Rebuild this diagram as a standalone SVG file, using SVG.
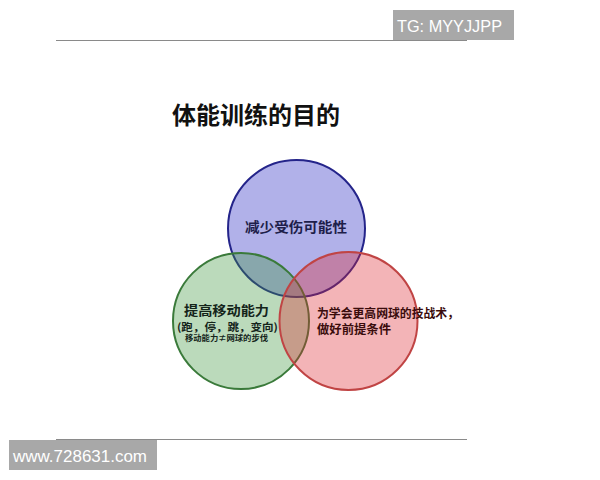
<svg xmlns="http://www.w3.org/2000/svg" width="600" height="480" viewBox="0 0 600 480">
<style>
.cjk{font-family:"Noto Sans CJK SC","Noto Sans",sans-serif;font-weight:bold}
.wm{font-family:"Liberation Sans",Arial,sans-serif;fill:#ffffff;font-size:17px}
.rule{stroke:#8a8a8a;stroke-width:1.2}
.c{stroke-width:2}
</style>
<rect x="0" y="0" width="600" height="480" fill="#ffffff"/>
<line class="rule" x1="56" y1="40.5" x2="467" y2="40.5"/>
<line class="rule" x1="56" y1="439.5" x2="467" y2="439.5"/>
<g id="tg">
<rect x="393" y="10" width="121" height="30" fill="#a8a8a8"/>
<text class="wm" x="397" y="32" textLength="105" lengthAdjust="spacingAndGlyphs">TG: MYYJJPP</text>
</g>
<g id="www">
<rect x="9" y="440" width="148" height="30" fill="#a8a8a8"/>
<text class="wm" x="13" y="462" textLength="134" lengthAdjust="spacingAndGlyphs">www.728631.com</text>
</g>
<text id="title" class="cjk" x="256" y="124" font-size="24" text-anchor="middle" fill="#111111">体能训练的目的</text>
<g id="blue">
<circle class="c" cx="296.5" cy="228.5" r="68.5" fill="#3c3cc8" fill-opacity="0.4" stroke="#24248a"/>
</g>
<g id="green">
<circle class="c" cx="241" cy="321" r="68" fill="#3c963c" fill-opacity="0.35" stroke="#3a7a3a"/>
</g>
<g id="red">
<circle class="c" cx="348.5" cy="321" r="69" fill="#dc2832" fill-opacity="0.35" stroke="#c04444"/>
</g>
<g id="labels">
<text class="cjk" x="296" y="232" font-size="14" text-anchor="middle" fill="#1e1e4a" textLength="102" lengthAdjust="spacingAndGlyphs">减少受伤可能性</text>
<text class="cjk" x="226.5" y="315" font-size="13" text-anchor="middle" fill="#14241a" textLength="85" lengthAdjust="spacingAndGlyphs">提高移动能力</text>
<text class="cjk" x="227.5" y="330.5" font-size="10.5" text-anchor="middle" fill="#14241a" textLength="101" lengthAdjust="spacingAndGlyphs">(跑，停，跳，变向)</text>
<text class="cjk" x="226.5" y="341" font-size="7.5" text-anchor="middle" fill="#14241a" textLength="83" lengthAdjust="spacingAndGlyphs">移动能力≠网球的步伐</text>
<text class="cjk" x="317" y="318" font-size="12" fill="#3a0c0c" textLength="142" lengthAdjust="spacingAndGlyphs">为学会更高网球的技战术，</text>
<text class="cjk" x="317" y="334" font-size="12" fill="#3a0c0c" textLength="74" lengthAdjust="spacingAndGlyphs">做好前提条件</text>
</g>
</svg>
